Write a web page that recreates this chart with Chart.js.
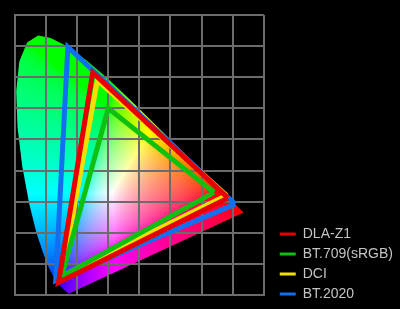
<!DOCTYPE html>
<html>
<head>
<meta charset="utf-8">
<script src="https://cdn.jsdelivr.net/npm/chart.js@4/dist/chart.umd.min.js"></script>
<style>
  html, body { margin: 0; padding: 0; background: #000; }
  canvas { display: block; }
</style>
</head>
<body>
<canvas id="cie" width="400" height="309"></canvas>
<script>
// CIE 1931 spectral locus (380-700 nm), x and y
const locusX = [0.1741, 0.1714, 0.1644, 0.1566, 0.1440, 0.1241, 0.1096, 0.0913, 0.0687, 0.0454,
  0.0235, 0.0082, 0.0039, 0.0139, 0.0389, 0.0743, 0.1142, 0.1547, 0.2296, 0.3016,
  0.3731, 0.4441, 0.5125, 0.5752, 0.6270, 0.6915, 0.7190, 0.7347];
const locusY = [0.0050, 0.0051, 0.0109, 0.0177, 0.0297, 0.0578, 0.0868, 0.1327, 0.2007, 0.2950,
  0.4127, 0.5384, 0.6548, 0.7502, 0.8120, 0.8338, 0.8262, 0.8059, 0.7543, 0.6923,
  0.6245, 0.5547, 0.4866, 0.4242, 0.3725, 0.3083, 0.2809, 0.2653];

// gamut primaries: red, green, blue
const gamutNames = ['DLA-Z1', 'BT.709(sRGB)', 'DCI', 'BT.2020'];
const gamutColors = ['#e60000', '#10c010', '#f0e000', '#1070f0'];
const dlaX = [0.685, 0.250, 0.140];
const dlaY = [0.312, 0.715, 0.040];
const bt709X = [0.640, 0.300, 0.150];
const bt709Y = [0.330, 0.600, 0.060];
const dciX = [0.680, 0.265, 0.150];
const dciY = [0.320, 0.690, 0.060];
const bt2020X = [0.708, 0.170, 0.131];
const bt2020Y = [0.292, 0.797, 0.046];

const gamutXs = [dlaX, bt709X, dciX, bt2020X];
const gamutYs = [dlaY, bt709Y, dciY, bt2020Y];

function closedPoints(xs, ys) {
  const pts = xs.map((x, i) => ({ x: x, y: ys[i] }));
  pts.push({ x: xs[0], y: ys[0] });
  return pts;
}

function xyToRgb(x, y) {
  const X = x / y, Y = 1, Z = (1 - x - y) / y;
  let r = 3.2406 * X - 1.5372 * Y - 0.4986 * Z;
  let g = -0.9689 * X + 1.8758 * Y + 0.0415 * Z;
  let b = 0.0557 * X - 0.2040 * Y + 1.0570 * Z;
  r = Math.max(r, 0); g = Math.max(g, 0); b = Math.max(b, 0);
  const m = Math.max(r, g, b) || 1;
  const gam = v => {
    v = v / m;
    v = v <= 0.0031308 ? 12.92 * v : 1.055 * Math.pow(v, 1 / 2.4) - 0.055;
    return Math.round(255 * v);
  };
  return [gam(r), gam(g), gam(b)];
}

// paints black background + the coloured horseshoe under the grid
const locusPlugin = {
  id: 'locus',
  beforeDraw(chart) {
    const ctx = chart.ctx;
    const xs = chart.scales.x, ys = chart.scales.y;
    const area = chart.chartArea;
    ctx.save();
    ctx.fillStyle = '#000';
    ctx.fillRect(0, 0, chart.width, chart.height);

    const w = Math.ceil(area.right - area.left), h = Math.ceil(area.bottom - area.top);
    const off = document.createElement('canvas');
    off.width = w; off.height = h;
    const octx = off.getContext('2d');
    const img = octx.createImageData(w, h);
    for (let j = 0; j < h; j++) {
      const yv = ys.getValueForPixel(area.top + j + 0.5);
      for (let i = 0; i < w; i++) {
        const xv = xs.getValueForPixel(area.left + i + 0.5);
        const k = (j * w + i) * 4;
        if (yv <= 0.001) continue;
        const c = xyToRgb(xv, yv);
        img.data[k] = c[0]; img.data[k + 1] = c[1]; img.data[k + 2] = c[2]; img.data[k + 3] = 255;
      }
    }
    octx.putImageData(img, 0, 0);

    ctx.beginPath();
    locusX.forEach((x, i) => {
      const px = xs.getPixelForValue(x), py = ys.getPixelForValue(locusY[i]);
      if (i === 0) ctx.moveTo(px, py); else ctx.lineTo(px, py);
    });
    ctx.closePath();
    ctx.clip();
    ctx.drawImage(off, area.left, area.top);
    ctx.restore();
  }
};

// nudge the legend block to where it sits in the original
const legendNudge = {
  id: 'legendNudge',
  afterLayout(chart) {
    const lg = chart.legend;
    if (!lg) return;
    lg.left += 10; lg.right += 10;
    lg.top += 12; lg.bottom += 12;
  }
};

const gridColor = '#6c6c6c';

new Chart(document.getElementById('cie'), {
  type: 'scatter',
  data: {
    datasets: gamutNames.map((name, i) => ({
      label: name,
      data: closedPoints(gamutXs[i], gamutYs[i]),
      showLine: true,
      borderColor: gamutColors[i],
      backgroundColor: gamutColors[i],
      borderWidth: 5,
      borderJoinStyle: 'miter',
      pointRadius: 0,
      fill: false
    }))
  },
  options: {
    responsive: false,
    animation: false,
    devicePixelRatio: 1,
    layout: { padding: { left: 15, top: 15, bottom: 14, right: 7 } },
    scales: {
      x: {
        type: 'linear', min: 0, max: 0.8,
        ticks: { display: false, stepSize: 0.1 },
        grid: { color: gridColor, lineWidth: 2, drawTicks: false },
        border: { color: gridColor, width: 2 }
      },
      y: {
        type: 'linear', min: 0, max: 0.9,
        ticks: { display: false, stepSize: 0.1 },
        grid: { color: gridColor, lineWidth: 2, drawTicks: false },
        border: { color: gridColor, width: 2 }
      }
    },
    plugins: {
      tooltip: { enabled: false },
      legend: {
        position: 'right',
        align: 'end',
        maxWidth: 200,
        labels: {
          color: '#c4c4c4',
          font: { family: 'Liberation Sans', size: 14 },
          boxWidth: 16,
          boxHeight: 3,
          padding: 6,
          generateLabels(chart) {
            return chart.data.datasets.map((ds, i) => ({
              text: ds.label,
              fillStyle: ds.borderColor,
              strokeStyle: ds.borderColor,
              lineWidth: 0,
              fontColor: '#c4c4c4',
              hidden: false,
              datasetIndex: i
            }));
          }
        }
      }
    }
  },
  plugins: [locusPlugin, legendNudge]
});
</script>
</body>
</html>
